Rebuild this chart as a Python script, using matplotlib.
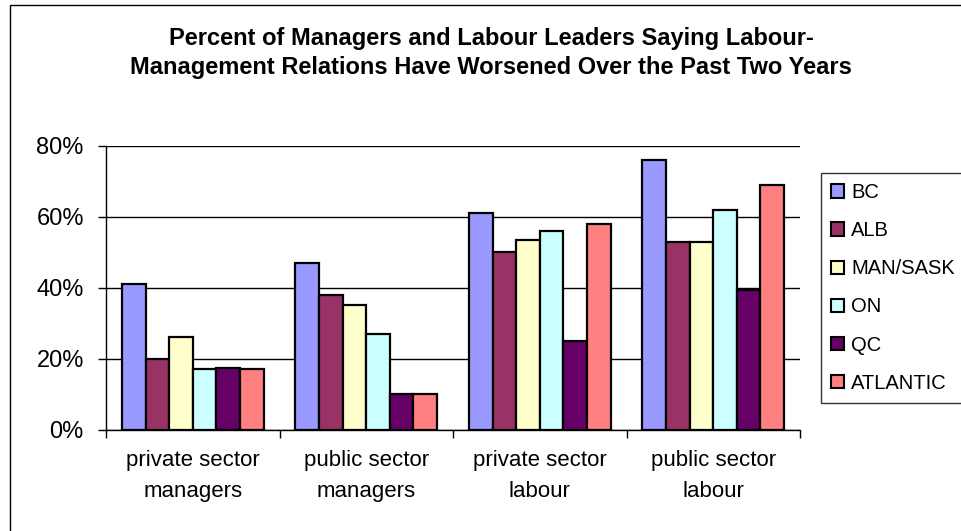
import matplotlib
matplotlib.use("Agg")
import matplotlib.pyplot as plt
from matplotlib.patches import Rectangle
from matplotlib.ticker import FixedLocator, FuncFormatter
import numpy as np

plt.rcParams['font.family'] = ['Liberation Sans', 'DejaVu Sans']

categories = ["private sector\nmanagers", "public sector\nmanagers",
              "private sector\nlabour", "public sector\nlabour"]
regions = ["BC", "ALB", "MAN/SASK", "ON", "QC", "ATLANTIC"]
values = {
    "BC":       [41, 47, 61, 76],
    "ALB":      [20, 38, 50, 53],
    "MAN/SASK": [26, 35, 53.5, 53],
    "ON":       [17, 27, 56, 62],
    "QC":       [17.3, 10, 25, 39.5],
    "ATLANTIC": [17, 10, 58, 69],
}
colors = ["#9999FF", "#993366", "#FFFFCC", "#CCFFFF", "#660066", "#FF8080"]
title = ("Percent of Managers and Labour Leaders Saying Labour-\n"
         "Management Relations Have Worsened Over the Past Two Years")

W, H = 961, 531
fig = plt.figure(figsize=(W / 100, H / 100), dpi=100)
ax = fig.add_axes([106 / W, 1 - 429.5 / H, (800 - 106) / W, (429.5 - 146) / H])

n = len(regions)
bw = 1 / 7.35
x = np.arange(len(categories)) + 0.5
for i, (r, c) in enumerate(zip(regions, colors)):
    off = (i - (n - 1) / 2) * bw
    ax.bar(x + off, values[r], width=bw, color=c, edgecolor="black",
           linewidth=1.6, label=r, zorder=3)

ax.set_xlim(0, 4)
ax.set_ylim(0, 80)
ax.set_yticks([0, 20, 40, 60, 80])
ax.yaxis.set_major_formatter(FuncFormatter(lambda v, p: f"{int(v)}%"))
ax.grid(axis="y", color="black", linewidth=1, zorder=0)
ax.xaxis.set_major_locator(FixedLocator([0, 1, 2, 3, 4]))
ax.xaxis.set_minor_locator(FixedLocator(list(x)))
ax.set_xticklabels([], minor=False)
ax.set_xticklabels(categories, minor=True, fontsize=16, linespacing=1.62)
ax.tick_params(axis="x", which="major", length=6, width=1, direction="out")
ax.tick_params(axis="x", which="minor", length=0, pad=15)
ax.tick_params(axis="y", length=6, width=1, direction="out", labelsize=17, pad=10)
for s in ["top", "right"]:
    ax.spines[s].set_visible(False)
for s in ["left", "bottom"]:
    ax.spines[s].set_color("black")
    ax.spines[s].set_linewidth(1)

fig.text(491 / W, 1 - 53 / H, title, ha="center", va="center",
         fontsize=17, fontweight="bold", linespacing=1.36)

leg = fig.legend(loc="upper left", bbox_to_anchor=(821 / W, 1 - 173 / H),
                 fontsize=14.5, frameon=True, fancybox=False,
                 handlelength=0.64, handleheight=0.64, handletextpad=0.35,
                 labelspacing=0.95, borderpad=0.5, borderaxespad=0)
leg.get_frame().set_edgecolor("black")
leg.get_frame().set_linewidth(1)
for h in leg.legend_handles:
    h.set_linewidth(1.5)

fig.patches.append(Rectangle((10 / W, -0.1), 1.2, 1.1 - 5 / H,
                             transform=fig.transFigure, fill=False,
                             edgecolor="black", linewidth=1))

fig.savefig("out.png", dpi=100)
